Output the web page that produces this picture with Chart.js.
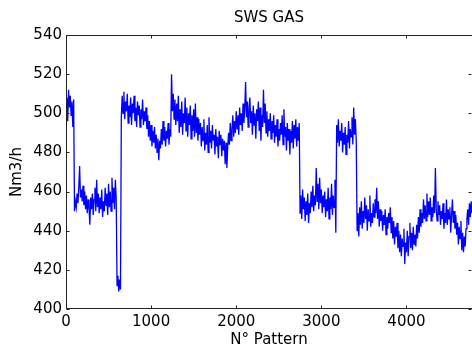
<!DOCTYPE html>
<html>
<head>
<meta charset="utf-8">
<title>SWS GAS</title>
<script src="https://cdn.jsdelivr.net/npm/chart.js@4.4.1/dist/chart.umd.min.js"></script>
<style>
  html, body { margin: 0; padding: 0; background: #fff; }
  #wrap { position: relative; width: 472px; height: 350px; }
</style>
</head>
<body>
<div id="wrap"><canvas id="gasChart"></canvas></div>
<script>
"use strict";

// pattern number of each sample = index * patternStep
const patternStep = 10;

// SWS gas flow (Nm3/h), one value every 10 patterns
// (one row = 100 patterns)
const swsGas = [
    500, 508, 496, 512, 503, 509, 499, 506, 493, 507,
    450, 455, 452, 459, 454, 462, 473, 457, 461, 455,
    463, 453, 460, 451, 458, 449, 456, 452, 443, 457,
    451, 459, 448, 456, 462, 450, 466, 452, 459, 449,
    457, 451, 461, 447, 455, 450, 462, 453, 459, 448,
    464, 452, 460, 450, 467, 454, 462, 451, 466, 456,
    412, 417, 409, 415, 410, 498, 509, 500, 511, 497,
    506, 501, 510, 495, 504, 498, 508, 494, 505, 500,
    509, 496, 503, 493, 506, 499, 504, 493, 502, 497,
    507, 494, 501, 496, 503, 492, 499, 488, 496, 486,
    494, 483, 491, 485, 493, 482, 489, 480, 487, 476,
    486, 482, 492, 484, 496, 486, 493, 483, 491, 487,
    495, 484, 492, 488, 520, 501, 510, 497, 507, 494,
    505, 496, 509, 490, 502, 493, 506, 489, 500, 495,
    508, 491, 503, 488, 500, 494, 504, 487, 499, 491,
    502, 488, 505, 490, 498, 486, 497, 489, 495, 483,
    493, 486, 497, 481, 490, 484, 494, 480, 498, 485,
    491, 482, 494, 486, 489, 479, 492, 483, 488, 477,
    491, 484, 489, 478, 487, 481, 486, 474, 485, 472,
    483, 490, 484, 495, 486, 492, 499, 488, 496, 490,
    501, 492, 499, 489, 503, 494, 500, 491, 505, 495,
    502, 516, 498, 506, 493, 503, 508, 495, 501, 489,
    504, 494, 500, 487, 502, 496, 506, 491, 503, 486,
    499, 493, 512, 495, 505, 490, 501, 488, 497, 491,
    500, 487, 496, 490, 499, 485, 494, 488, 497, 483,
    492, 486, 495, 489, 499, 484, 502, 488, 493, 481,
    495, 486, 492, 479, 491, 485, 496, 482, 494, 487,
    497, 483, 493, 486, 495, 449, 458, 446, 461, 451,
    457, 445, 455, 448, 459, 444, 454, 449, 460, 452,
    463, 450, 458, 453, 472, 455, 464, 451, 467, 454,
    461, 449, 458, 452, 460, 447, 456, 450, 462, 446,
    457, 451, 464, 448, 458, 452, 466, 439, 494, 485,
    497, 483, 491, 486, 495, 480, 490, 484, 493, 479,
    489, 485, 496, 482, 492, 488, 498, 484, 503, 489,
    497, 486, 440, 449, 437, 452, 443, 455, 441, 450,
    444, 457, 446, 453, 440, 451, 445, 458, 442, 449,
    444, 454, 447, 456, 449, 462, 446, 455, 442, 451,
    445, 450, 440, 448, 443, 451, 438, 447, 441, 449,
    444, 452, 439, 447, 436, 445, 433, 442, 437, 444,
    431, 440, 429, 438, 427, 436, 432, 441, 423, 434,
    429, 440, 427, 437, 444, 431, 439, 430, 442, 433,
    438, 432, 443, 436, 447, 439, 451, 442, 449, 444,
    456, 446, 453, 445, 459, 447, 455, 448, 457, 445,
    452, 447, 458, 449, 472, 451, 445, 455, 448, 453,
    443, 450, 446, 454, 441, 449, 444, 456, 443, 451,
    446, 452, 439, 448, 456, 444, 450, 441, 448, 438,
    444, 433, 442, 436, 445, 430, 439, 429, 437, 432,
    441, 446, 451, 443, 454, 447, 455, 449
];

// axis limits and tick values
const xRange = [0, 4770];
const xTicks = [0, 1000, 2000, 3000, 4000];
const yRange = [400, 540];
const yTicks = [400, 420, 440, 460, 480, 500, 520, 540];

const points = swsGas.map((v, i) => ({ x: i * patternStep, y: v }));

const font = { family: "'DejaVu Sans', sans-serif", size: 15 };

// matlab style box with inward ticks on all four sides
const matlabBox = {
    id: 'matlabBox',
    afterDatasetsDraw(chart) {
        const { ctx, chartArea: a, scales } = chart;
        const len = 3;
        const L = Math.round(a.left) + 0.5, R = Math.round(a.right) + 0.5;
        const T = Math.round(a.top) + 0.5, B = Math.round(a.bottom) - 0.5;
        ctx.save();
        ctx.strokeStyle = '#222';
        ctx.lineWidth = 1;
        ctx.beginPath();
        ctx.rect(L, T, R - L, B - T);
        scales.x.ticks.forEach(t => {
            const px = Math.round(scales.x.getPixelForValue(t.value)) + 0.5;
            ctx.moveTo(px, B); ctx.lineTo(px, B - len);
            ctx.moveTo(px, T); ctx.lineTo(px, T + len);
        });
        scales.y.ticks.forEach(t => {
            const py = Math.round(scales.y.getPixelForValue(t.value)) + 0.5;
            ctx.moveTo(L, py); ctx.lineTo(L + len, py);
            ctx.moveTo(R - 1, py); ctx.lineTo(R - 1 - len, py);
        });
        ctx.stroke();
        ctx.restore();
    }
};

const ctx = document.getElementById('gasChart').getContext('2d');
const gasChart = new Chart(ctx, {
    type: 'line',
    data: {
        datasets: [{
            label: 'SWS GAS',
            data: points,
            borderColor: '#0000ff',
            borderWidth: 1.3,
            pointRadius: 0,
            tension: 0,
            fill: false
        }]
    },
    options: {
        responsive: true,
        maintainAspectRatio: false,
        animation: false,
        devicePixelRatio: 1,
        layout: { padding: 0 },
        plugins: {
            legend: { display: false },
            tooltip: { enabled: false },
            title: {
                display: true,
                text: 'SWS GAS',
                color: '#000',
                fullSize: false,
                font: { family: font.family, size: 15, weight: 'normal' },
                padding: { top: 9, bottom: 8 }
            }
        },
        scales: {
            x: {
                type: 'linear',
                min: xRange[0],
                max: xRange[1],
                grid: { display: false, drawTicks: false },
                border: { display: false },
                ticks: {
                    color: '#000',
                    font: font,
                    padding: 4,
                    maxRotation: 0,
                    callback: v => String(v)
                },
                afterBuildTicks(scale) {
                    scale.ticks = xTicks.map(v => ({ value: v }));
                },
                title: {
                    display: true,
                    text: 'N° Pattern',
                    color: '#000',
                    font: font,
                    padding: { top: 0, bottom: 1 }
                },
                afterFit(scale) { scale.height = 41; }
            },
            y: {
                min: yRange[0],
                max: yRange[1],
                grid: { display: false, drawTicks: false },
                border: { display: false },
                ticks: {
                    color: '#000',
                    font: font,
                    padding: 4,
                    callback: v => String(v)
                },
                afterBuildTicks(scale) {
                    scale.ticks = yTicks.map(v => ({ value: v }));
                },
                title: {
                    display: true,
                    text: 'Nm3/h',
                    color: '#000',
                    font: font,
                    padding: { top: 8, bottom: 0 }
                },
                afterFit(scale) { scale.width = 66; }
            }
        }
    },
    plugins: [matlabBox]
});
</script>
</body>
</html>
